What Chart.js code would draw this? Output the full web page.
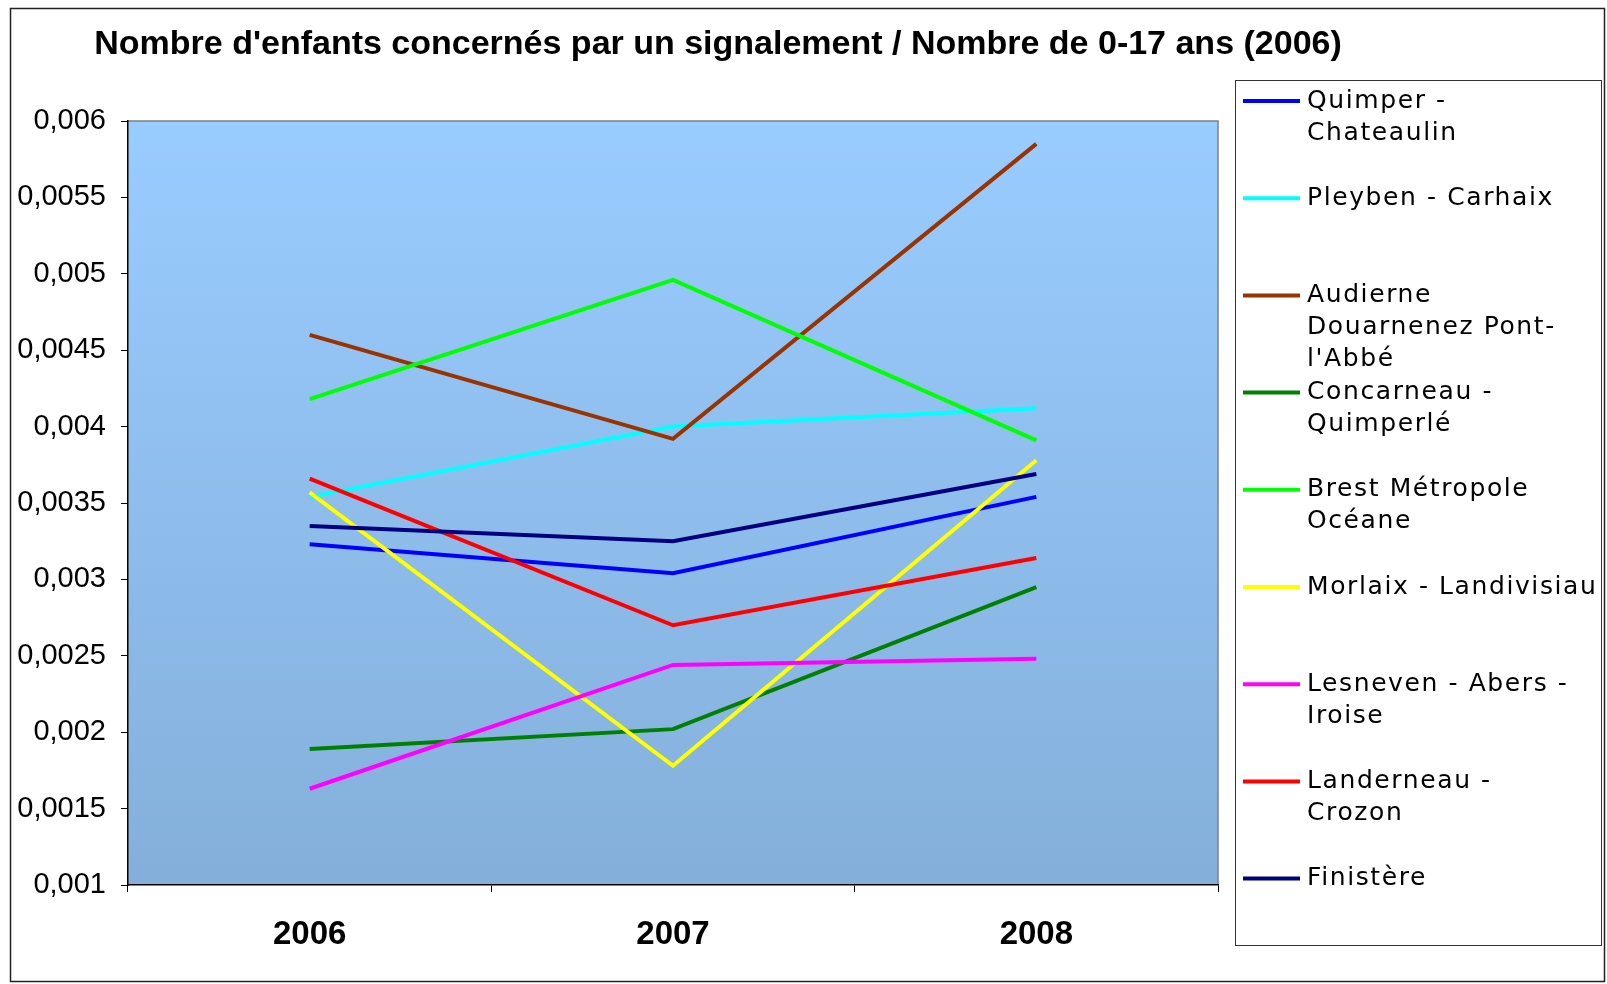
<!DOCTYPE html>
<html>
<head>
<meta charset="utf-8">
<script src="https://cdn.jsdelivr.net/npm/chart.js@4/dist/chart.umd.min.js"></script>
<style>
  html, body { margin: 0; padding: 0; background: #fff; }
  #wrap { width: 1607px; height: 984px; position: relative; }
</style>
</head>
<body>
<div id="wrap"><canvas id="c" width="1607" height="984"></canvas></div>
<script>
const title = "Nombre d'enfants concernés par un signalement / Nombre de 0-17 ans (2006)";
const years = ["2006", "2007", "2008"];

const quimper = [0.00323, 0.00304, 0.00354];
const pleyben = [0.00354, 0.00400, 0.00412];
const audierne = [0.00460, 0.00392, 0.00585];
const concarneau = [0.00189, 0.00202, 0.00295];
const brest = [0.00418, 0.00496, 0.00391];
const morlaix = [0.00357, 0.00178, 0.00378];
const lesneven = [0.00163, 0.00244, 0.00248];
const landerneau = [0.00366, 0.00270, 0.00314];
const finistere = [0.00335, 0.00325, 0.00369];

const seriesNames = [
  ["Quimper -", "Chateaulin"],
  ["Pleyben - Carhaix"],
  ["Audierne", "Douarnenez Pont-", "l'Abbé"],
  ["Concarneau -", "Quimperlé"],
  ["Brest Métropole", "Océane"],
  ["Morlaix - Landivisiau"],
  ["Lesneven - Abers -", "Iroise"],
  ["Landerneau -", "Crozon"],
  ["Finistère"]
];
const seriesData = [quimper, pleyben, audierne, concarneau, brest, morlaix, lesneven, landerneau, finistere];
const seriesColors = ["#0000FF", "#00FFFF", "#993300", "#008000", "#00FF00", "#FFFF00", "#FF00FF", "#FF0000", "#000080"];

const yMin = 0.001, yMax = 0.006, yStep = 0.0005;

// background, frame, title and legend drawn around the chart
const decor = {
  id: "decor",
  beforeDraw(chart) {
    const ctx = chart.ctx;
    const a = chart.chartArea;
    ctx.save();
    ctx.fillStyle = "#fff";
    ctx.fillRect(0, 0, chart.width, chart.height);
    const g = ctx.createLinearGradient(0, a.top, 0, a.bottom);
    g.addColorStop(0, "#99CCFF");
    g.addColorStop(1, "#84AFDA");
    ctx.fillStyle = g;
    ctx.fillRect(a.left, a.top, a.right - a.left, a.bottom - a.top);
    ctx.strokeStyle = "#808080";
    ctx.lineWidth = 1.5;
    ctx.beginPath();
    ctx.moveTo(a.left, a.top);
    ctx.lineTo(a.right, a.top);
    ctx.lineTo(a.right, a.bottom);
    ctx.stroke();
    ctx.restore();
  },
  afterDraw(chart) {
    const ctx = chart.ctx;
    ctx.save();
    // outer frame
    ctx.strokeStyle = "#222";
    ctx.lineWidth = 1.5;
    ctx.strokeRect(10.5, 8.5, 1594, 973);
    // title
    ctx.fillStyle = "#000";
    ctx.font = "bold 34px 'Liberation Sans', Arial, sans-serif";
    ctx.textAlign = "center";
    ctx.textBaseline = "middle";
    ctx.fillText(title, 718, 45);
    // legend box
    ctx.strokeStyle = "#333";
    ctx.lineWidth = 1;
    ctx.strokeRect(1235.5, 80.5, 366, 865);
    ctx.font = "25px 'DejaVu Sans', sans-serif";
    ctx.letterSpacing = "1.6px";
    ctx.textAlign = "left";
    ctx.textBaseline = "middle";
    chart.data.datasets.forEach((ds, i) => {
      const y = 101 + i * 97.2;
      ctx.strokeStyle = ds.borderColor;
      ctx.lineWidth = 4;
      ctx.beginPath();
      ctx.moveTo(1243, y);
      ctx.lineTo(1300, y);
      ctx.stroke();
      ctx.fillStyle = "#000";
      seriesNames[i].forEach((line, k) => {
        ctx.fillText(line, 1307, y + k * 32);
      });
    });
    ctx.restore();
  }
};

new Chart(document.getElementById("c"), {
  type: "line",
  data: {
    labels: years,
    datasets: seriesData.map((d, i) => ({
      label: seriesNames[i].join(" "),
      data: d,
      borderColor: seriesColors[i],
      backgroundColor: seriesColors[i],
      borderWidth: 4,
      pointRadius: 0,
      tension: 0,
      order: seriesData.length - i
    }))
  },
  options: {
    responsive: false,
    animation: false,
    devicePixelRatio: 1,
    layout: { padding: { left: 0, right: 389, top: 121, bottom: 0 } },
    plugins: {
      legend: { display: false },
      title: { display: false },
      tooltip: { enabled: false }
    },
    scales: {
      x: {
        offset: true,
        grid: { offset: true, drawOnChartArea: false, tickLength: 7, color: "#000" },
        border: { color: "#000", width: 1.5 },
        ticks: {
          color: "#000",
          padding: 23,
          font: { size: 33, weight: "bold", family: "'Liberation Sans', Arial, sans-serif" }
        },
        afterFit(scale) { scale.height = 99; }
      },
      y: {
        min: yMin,
        max: yMax,
        grid: { drawOnChartArea: false, tickLength: 7, color: "#000" },
        border: { color: "#000", width: 1.5 },
        ticks: {
          stepSize: yStep,
          color: "#000",
          padding: 15,
          font: { size: 29, family: "'Liberation Sans', Arial, sans-serif" },
          callback: (v) => Number(v.toFixed(4)).toString().replace(".", ",")
        },
        afterFit(scale) { scale.width = 128; }
      }
    }
  },
  plugins: [decor]
});
</script>
</body>
</html>
